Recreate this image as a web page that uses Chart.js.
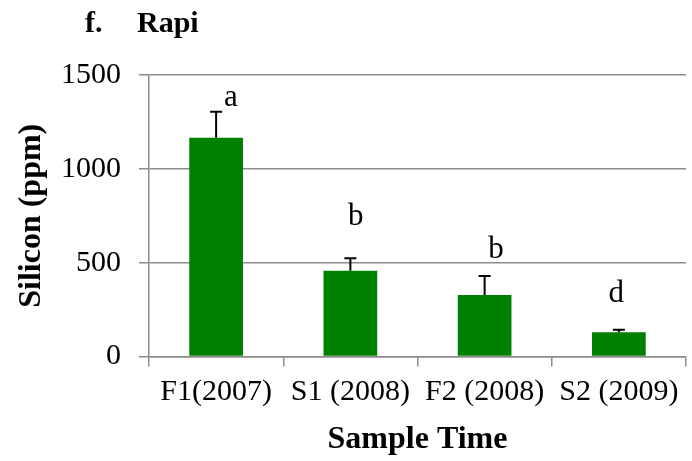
<!DOCTYPE html>
<html>
<head>
<meta charset="utf-8">
<script src="https://cdn.jsdelivr.net/npm/chart.js@4/dist/chart.umd.min.js"></script>
<style>
  html, body { margin: 0; padding: 0; background: #ffffff; }
  #wrap { width: 692px; height: 461px; position: relative; }
</style>
</head>
<body>
<div id="wrap"><canvas id="c" width="692" height="461"></canvas></div>
<script>
// ---- data ----
const categories = ['F1(2007)', 'S1 (2008)', 'F2 (2008)', 'S2 (2009)'];
const siliconMean = [1166, 457, 328, 129];
const siliconErr = [138, 66, 101, 14];
const groupLetters = ['a', 'b', 'b', 'd'];
const letterLevels = [1335, 700, 524, 292];      // baseline of letter, in ppm
const letterShift = [0.11, 0.04, 0.085, -0.02];   // fraction of category width
const yTicks = [0, 500, 1000, 1500];
const panelLabel = 'f.';
const panelSite = 'Rapi';

const SERIF = "'Liberation Serif', 'Times New Roman', serif";
const GRID = '#8c8c8c';

const annotate = {
  id: 'annotate',
  afterDatasetsDraw(chart) {
    const ctx = chart.ctx;
    const meta = chart.getDatasetMeta(0);
    const y = chart.scales.y;
    const xs = chart.scales.x;
    const catW = (xs.right - xs.left) / categories.length;
    ctx.save();
    // error bars (upper only)
    ctx.strokeStyle = '#000000';
    ctx.lineWidth = 2;
    meta.data.forEach((bar, i) => {
      const top = y.getPixelForValue(siliconMean[i] + siliconErr[i]);
      const base = y.getPixelForValue(siliconMean[i]);
      ctx.beginPath();
      ctx.moveTo(bar.x, base);
      ctx.lineTo(bar.x, top);
      ctx.moveTo(bar.x - 6, top);
      ctx.lineTo(bar.x + 6, top);
      ctx.stroke();
    });
    // significance letters
    ctx.fillStyle = '#000000';
    ctx.font = '31px ' + SERIF;
    ctx.textAlign = 'center';
    ctx.textBaseline = 'alphabetic';
    meta.data.forEach((bar, i) => {
      ctx.fillText(groupLetters[i], bar.x + letterShift[i] * catW, y.getPixelForValue(letterLevels[i]));
    });
    // panel title
    ctx.font = 'bold 30px ' + SERIF;
    ctx.textAlign = 'left';
    ctx.fillText(panelLabel, 85, 32);
    ctx.fillText(panelSite, 137, 32);
    ctx.restore();
  }
};

new Chart(document.getElementById('c'), {
  type: 'bar',
  data: {
    labels: categories,
    datasets: [{
      data: siliconMean,
      backgroundColor: '#008000',
      borderWidth: 0,
      categoryPercentage: 1.0,
      barPercentage: 0.4
    }]
  },
  options: {
    responsive: false,
    animation: false,
    devicePixelRatio: 1,
    layout: { padding: { left: 0, right: 6, top: 75, bottom: 0 } },
    plugins: { legend: { display: false }, tooltip: { enabled: false } },
    scales: {
      x: {
        grid: { display: true, drawOnChartArea: false, drawTicks: true, tickLength: 10, color: GRID, lineWidth: 1.5, offset: true },
        border: { display: true, color: GRID, width: 1.5 },
        ticks: { color: '#000000', font: { family: SERIF, size: 30 }, padding: 8, maxRotation: 0, autoSkip: false },
        title: { display: true, text: 'Sample Time', color: '#000000', font: { family: SERIF, size: 32, weight: 'bold' }, padding: { top: 0, bottom: 2 } },
        afterFit(scale) { scale.height = 104.5; }
      },
      y: {
        min: 0, max: 1500,
        afterBuildTicks(scale) { scale.ticks = yTicks.map(v => ({ value: v })); },
        grid: { display: true, drawOnChartArea: true, drawTicks: true, tickLength: 10, color: GRID, lineWidth: 1.5 },
        border: { display: true, color: GRID, width: 1.5 },
        ticks: { color: '#000000', font: { family: SERIF, size: 30 }, padding: 18, callback: (v) => String(v) },
        title: { display: true, text: 'Silicon (ppm)', color: '#000000', font: { family: SERIF, size: 32, weight: 'bold' }, padding: { top: 13, bottom: 0 } },
        afterFit(scale) { scale.width = 149; }
      }
    }
  },
  plugins: [annotate]
});
</script>
</body>
</html>
